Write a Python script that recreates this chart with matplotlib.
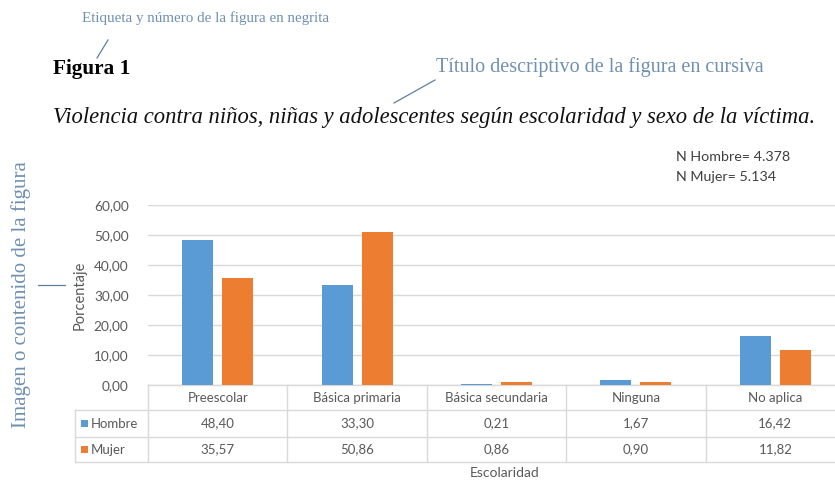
import matplotlib
matplotlib.use("Agg")
import matplotlib.pyplot as plt
from matplotlib.transforms import blended_transform_factory
from matplotlib.patches import Rectangle
from matplotlib.lines import Line2D

# ---------------- data ----------------
categories = ["Preescolar", "Básica primaria", "Básica secundaria", "Ninguna", "No aplica"]
hombre = [48.40, 33.30, 0.21, 1.67, 16.42]
mujer = [35.57, 50.86, 0.86, 0.90, 11.82]
hombre_labels = ["48,40", "33,30", "0,21", "1,67", "16,42"]
mujer_labels = ["35,57", "50,86", "0,86", "0,90", "11,82"]
series_names = ["Hombre", "Mujer"]
y_ticks = [0, 10, 20, 30, 40, 50, 60]
y_tick_labels = ["0,00", "10,00", "20,00", "30,00", "40,00", "50,00", "60,00"]
n_text = ["N Hombre= 4.378", "N Mujer= 5.134"]

BLUE = "#5b9bd5"
ORANGE = "#ed7d31"
GRAY = "#595959"
GRID = "#d9d9d9"
ANNOT = "#7090b0"

W, H = 835, 486
fig = plt.figure(figsize=(W / 100, H / 100), dpi=100)
fig.patch.set_facecolor("white")

def fx(x):
    return x / W

def fy(y):
    return 1 - y / H

SANS = "Lato"
SERIF = "Liberation Serif"

# ---------------- axes ----------------
left_px, right_px, top_px, bottom_px = 148, 845, 205, 385
ax = fig.add_axes([fx(left_px), fy(bottom_px), (right_px - left_px) / W, (bottom_px - top_px) / H])
n = len(categories)
x = list(range(n))
xc = [i + 0.5 for i in x]
bw = 0.222
off = 0.143
ax.bar([c - off for c in xc], hombre, width=bw, color=BLUE, zorder=3)
ax.bar([c + off for c in xc], mujer, width=bw, color=ORANGE, zorder=3)
ax.set_xlim(0, n)
ax.set_ylim(0, 60)
ax.set_yticks(y_ticks)
ax.set_yticklabels(y_tick_labels, fontfamily=SANS, fontsize=9.8, color=GRAY)
ax.tick_params(axis="y", length=0, pad=14)
ax.set_xticks([])
for s in ax.spines.values():
    s.set_visible(False)
ax.yaxis.grid(True, color=GRID, linewidth=1)
ax.set_axisbelow(True)

# ---------------- data table ----------------
tr = blended_transform_factory(ax.transData, ax.transAxes)
ph = bottom_px - top_px
def ay(ypx):
    return (bottom_px - ypx) / ph

row_top = 385
row1 = 410
row2 = 437
row3 = 462
label_left = -(left_px - 75) / 139.4

line_kw = dict(color=GRID, linewidth=1, transform=tr, clip_on=False)
ax.add_line(Line2D([0, n], [ay(row_top), ay(row_top)], **line_kw))
for yy in (row1, row2, row3):
    ax.add_line(Line2D([label_left, n], [ay(yy), ay(yy)], **line_kw))
for i in range(n + 1):
    ax.add_line(Line2D([i, i], [ay(row_top), ay(row3)], **line_kw))
ax.add_line(Line2D([label_left, label_left], [ay(row1), ay(row3)], **line_kw))

TFS = 9.5
txt_kw = dict(transform=tr, fontfamily=SANS, fontsize=TFS, color=GRAY,
              ha="center", va="center", clip_on=False)
for i, cat in enumerate(categories):
    ax.text(xc[i], ay((row_top + row1) / 2), cat, **txt_kw)
    ax.text(xc[i], ay((row1 + row2) / 2), hombre_labels[i], **txt_kw)
    ax.text(xc[i], ay((row2 + row3) / 2), mujer_labels[i], **txt_kw)

sq_w = 7 / 139.4
sq_h = 7 / ph
for name, col, (a, b) in zip(series_names, [BLUE, ORANGE], [(row1, row2), (row2, row3)]):
    yc = ay((a + b) / 2)
    ax.add_patch(Rectangle((label_left + 6 / 139.4, yc - sq_h / 2), sq_w, sq_h,
                           facecolor=col, edgecolor="none", transform=tr, clip_on=False))
    ax.text(label_left + 16 / 139.4, yc, name, transform=tr, fontfamily=SANS, fontsize=TFS,
            color=GRAY, ha="left", va="center", clip_on=False)

# axis titles
fig.text(fx(80), fy(295), "Porcentaje", rotation=90, fontfamily=SANS, fontsize=10.5,
         color=GRAY, ha="center", va="center")
fig.text(fx(505), fy(473), "Escolaridad", fontfamily=SANS, fontsize=10,
         color=GRAY, ha="center", va="center")

# N box
fig.text(fx(676), fy(157), n_text[0], fontfamily=SANS, fontsize=10.3, color="#404040",
         ha="left", va="center")
fig.text(fx(676), fy(177), n_text[1], fontfamily=SANS, fontsize=10.3, color="#404040",
         ha="left", va="center")

# ---------------- titles & annotations ----------------
fig.text(fx(53), fy(69), "Figura 1", fontfamily=SERIF, fontweight="bold", fontsize=15.3,
         color="black", ha="left", va="center")
fig.text(fx(53), fy(118),
         "Violencia contra niños, niñas y adolescentes según escolaridad y sexo de la víctima.",
         fontfamily=SERIF, fontstyle="italic", fontsize=16.3, color="#111111",
         ha="left", va="center")

fig.text(fx(82), fy(18), "Etiqueta y número de la figura en negrita", fontfamily=SERIF,
         fontsize=10.8, color=ANNOT, ha="left", va="center")
fig.text(fx(436), fy(67), "Título descriptivo de la figura en cursiva", fontfamily=SERIF,
         fontsize=14.5, color=ANNOT, ha="left", va="center")
fig.text(fx(21), fy(295), "Imagen o contenido de la figura", fontfamily=SERIF,
         fontsize=15, color=ANNOT, ha="center", va="center", rotation=90)

ann_line = dict(color="#5f7f9f", linewidth=0.9)
fig.add_artist(Line2D([fx(108), fx(97)], [fy(40), fy(58)], **ann_line))
fig.add_artist(Line2D([fx(435), fx(394)], [fy(80), fy(103)], **ann_line))
fig.add_artist(Line2D([fx(38), fx(65)], [fy(285), fy(285)], **ann_line))

fig.savefig("out.png", dpi=100, facecolor="white")
